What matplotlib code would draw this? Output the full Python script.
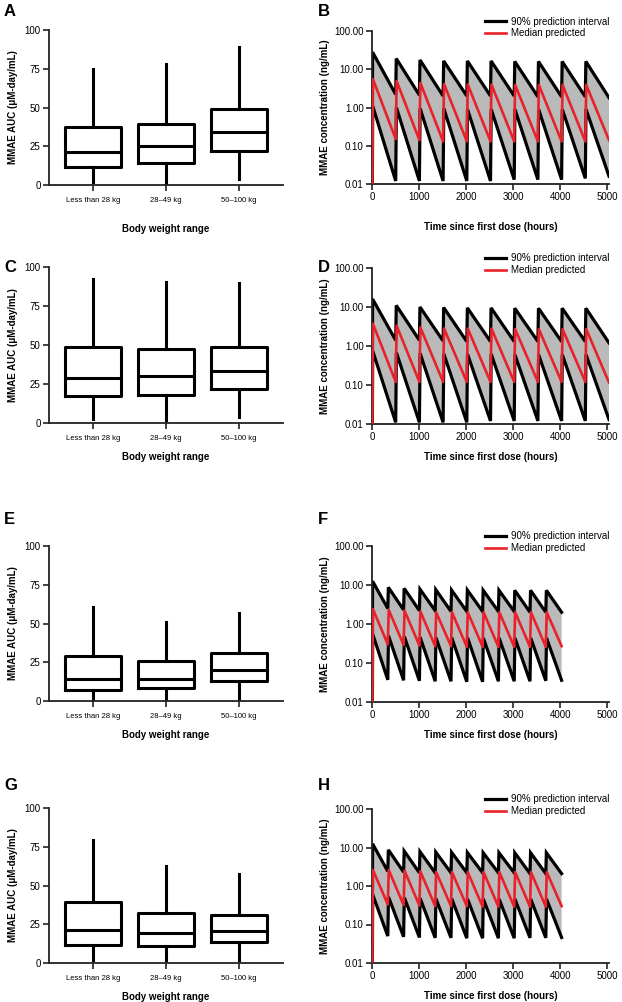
import numpy as np
import matplotlib.pyplot as plt

plt.rcParams['font.family'] = ['Liberation Sans', 'DejaVu Sans']

# ---- box plot data (MMAE AUC, uM-day/mL) ----
categories = ['Less than 28 kg', '28–49 kg', '50–100 kg']
# each row: whislo, q1, median, q3, whishi
box_A = [[2.2, 11.4, 21.0, 37.4, 74.6], [1.5, 14.0, 25.2, 39.6, 77.8], [3.7, 21.9, 34.0, 49.0, 89.2]]
box_C = [[2.4, 17.3, 28.9, 48.4, 92.5], [1.9, 18.0, 30.2, 47.3, 90.6], [4.0, 21.8, 33.6, 49.0, 89.7]]
box_E = [[0.3, 7.1, 14.3, 29.3, 60.4], [0.5, 8.1, 14.3, 25.9, 51.2], [1.0, 12.6, 19.9, 30.8, 57.0]]
box_G = [[1.7, 11.8, 21.6, 39.4, 79.2], [1.7, 11.1, 19.1, 32.1, 62.5], [2.1, 13.5, 20.6, 31.0, 57.2]]

# ---- PK profiles: peaks and troughs per dose cycle (ng/mL) ----
tau_B = 504
up_peak_B = [28, 19, 17.5, 16.5, 16.5, 16.5, 16, 16, 16, 16]
up_trough_B = [2.2, 2.1, 2.0, 2.0, 2.0, 2.0, 1.9, 1.9, 1.9, 1.8]
med_peak_B = [5.5, 4.9, 4.4, 4.1, 4.0, 4.0, 3.9, 3.9, 3.9, 3.9]
med_trough_B = [0.15, 0.14, 0.13, 0.13, 0.13, 0.13, 0.13, 0.13, 0.13, 0.14]
lo_peak_B = [1.1, 1.0, 0.95, 0.95, 0.9, 0.9, 0.9, 0.9, 0.9, 0.9]
lo_trough_B = [0.012, 0.012, 0.012, 0.012, 0.012, 0.013, 0.013, 0.013, 0.014, 0.016]

tau_D = 504
up_peak_D = [16, 11, 10, 9.7, 9.5, 9.5, 9.3, 9.3, 9.3, 9.3]
up_trough_D = [1.4, 1.4, 1.35, 1.3, 1.3, 1.3, 1.3, 1.3, 1.3, 1.2]
med_peak_D = [3.7, 3.3, 3.0, 2.8, 2.8, 2.8, 2.7, 2.7, 2.7, 2.7]
med_trough_D = [0.12, 0.12, 0.12, 0.12, 0.12, 0.12, 0.12, 0.12, 0.12, 0.115]
lo_peak_D = [0.75, 0.68, 0.65, 0.63, 0.62, 0.62, 0.6, 0.6, 0.6, 0.6]
lo_trough_D = [0.011, 0.011, 0.011, 0.011, 0.012, 0.012, 0.012, 0.012, 0.012, 0.013]

tau_F = 336
up_peak_F = [12.5, 8.7, 8.2, 7.8, 7.6, 7.4, 7.4, 7.3, 7.3, 7.3, 7.3, 7.3]
up_trough_F = [2.5, 2.3, 2.2, 2.2, 2.1, 2.1, 2.1, 2.1, 2.1, 2.0, 2.0, 2.0]
med_peak_F = [2.4, 2.3, 2.2, 2.1, 2.0, 2.0, 2.0, 2.0, 2.0, 2.0, 2.0, 2.0]
med_trough_F = [0.30, 0.29, 0.28, 0.27, 0.27, 0.26, 0.26, 0.26, 0.26, 0.26, 0.26, 0.27]
lo_peak_F = [0.55, 0.5, 0.48, 0.46, 0.45, 0.45, 0.45, 0.44, 0.44, 0.44, 0.44, 0.44]
lo_trough_F = [0.037, 0.036, 0.035, 0.034, 0.034, 0.033, 0.033, 0.034, 0.034, 0.034, 0.035, 0.036]

tau_H = 336
up_peak_H = [12.5, 8.7, 8.1, 7.8, 7.6, 7.5, 7.4, 7.3, 7.3, 7.3, 7.3, 7.3]
up_trough_H = [2.4, 2.3, 2.2, 2.2, 2.2, 2.2, 2.2, 2.2, 2.2, 2.1, 2.1, 2.1]
med_peak_H = [2.6, 2.6, 2.5, 2.4, 2.3, 2.3, 2.3, 2.3, 2.3, 2.3, 2.3, 2.3]
med_trough_H = [0.33, 0.32, 0.31, 0.3, 0.3, 0.3, 0.29, 0.29, 0.29, 0.29, 0.29, 0.3]
lo_peak_H = [0.6, 0.52, 0.5, 0.48, 0.47, 0.47, 0.46, 0.46, 0.46, 0.46, 0.46, 0.46]
lo_trough_H = [0.05, 0.048, 0.046, 0.045, 0.045, 0.044, 0.044, 0.044, 0.044, 0.045, 0.045, 0.046]


def profile(peaks, troughs, tau, offset):
    # sawtooth: rise at each dose, peak shortly after, log-linear decay to trough
    x = [0.0]
    y = [1e-4]
    prev = 1e-4
    for i in range(len(peaks)):
        t = i * tau
        x += [t, t + offset]
        y += [prev, peaks[i]]
        x.append(t + tau)
        y.append(troughs[i])
        prev = troughs[i]
    return np.array(x), np.array(y)


W, H = 622, 1002
fig = plt.figure(figsize=(W / 100, H / 100), dpi=100)


def axes_px(left, right, top, bottom):
    return fig.add_axes([left / W, 1 - bottom / H, (right - left) / W, (bottom - top) / H])


def style(ax):
    for s in ['top', 'right']:
        ax.spines[s].set_visible(False)
    for s in ['left', 'bottom']:
        ax.spines[s].set_linewidth(1.3)
        ax.spines[s].set_color('#222222')
    ax.tick_params(width=1.2, length=4, color='#222222', labelsize=7, pad=2)


def box_panel(ax, rows, labelpad):
    stats = []
    for r in rows:
        stats.append(dict(whislo=r[0], q1=r[1], med=r[2], q3=r[3], whishi=r[4], fliers=[]))
    lw = 2.2
    ax.bxp(stats, positions=[0, 1, 2], widths=0.77, showcaps=False, showfliers=False,
           boxprops=dict(linewidth=lw, color='black'),
           whiskerprops=dict(linewidth=lw, color='black'),
           medianprops=dict(linewidth=lw, color='black'))
    ax.set_xlim(-0.6, 2.6)
    ax.set_ylim(0, 100)
    ax.set_yticks([0, 25, 50, 75, 100])
    ax.set_xticks([0, 1, 2])
    ax.set_xticklabels(categories, fontsize=5.5)
    style(ax)
    ax.tick_params(axis='x', labelsize=5.5, pad=5)
    ax.set_ylabel('MMAE AUC (μM-day/mL)', fontsize=7, fontweight='bold', labelpad=5)
    ax.set_xlabel('Body weight range', fontsize=7, fontweight='bold', labelpad=labelpad)


def pk_panel(ax, up, med, lo, labelpad):
    xu, yu = profile(*up, 12)
    xm, ym = profile(*med, 20)
    xl, yl = profile(*lo, 15)
    ax.fill(np.concatenate([xu, xl[::-1]]), np.concatenate([yu, yl[::-1]]),
            color='#bababa', lw=0, zorder=1)
    ax.plot(xu, yu, color='black', lw=2.3, solid_joinstyle='miter', zorder=2,
            label='90% prediction interval')
    ax.plot(xl, yl, color='black', lw=2.3, solid_joinstyle='miter', zorder=2)
    ax.plot(xm, ym, color='#e8212b', lw=1.9, zorder=3, label='Median predicted')
    ax.set_yscale('log')
    ax.set_ylim(0.01, 100)
    ax.set_xlim(0, 5040)
    ax.set_yticks([0.01, 0.1, 1, 10, 100])
    ax.set_yticklabels(['0.01', '0.10', '1.00', '10.00', '100.00'])
    ax.minorticks_off()
    ax.set_xticks([0, 1000, 2000, 3000, 4000, 5000])
    style(ax)
    ax.set_ylabel('MMAE concentration (ng/mL)', fontsize=7, fontweight='bold', labelpad=3)
    ax.set_xlabel('Time since first dose (hours)', fontsize=7, fontweight='bold', labelpad=labelpad)
    ax.legend(loc='upper right', bbox_to_anchor=(1.02, 1.12), frameon=False, fontsize=7,
              handlelength=2.1, handletextpad=0.6, labelspacing=0.2, borderaxespad=0)


axA = axes_px(49, 283, 30, 185)
box_panel(axA, box_A, 14)
axB = axes_px(372, 609, 31, 184)
pk_panel(axB, (up_peak_B, up_trough_B, tau_B), (med_peak_B, med_trough_B, tau_B),
         (lo_peak_B, lo_trough_B, tau_B), 14)

axC = axes_px(49, 283, 267, 423)
box_panel(axC, box_C, 7)
axD = axes_px(372, 609, 268, 424)
pk_panel(axD, (up_peak_D, up_trough_D, tau_D), (med_peak_D, med_trough_D, tau_D),
         (lo_peak_D, lo_trough_D, tau_D), 7)

axE = axes_px(49, 283, 546, 701)
box_panel(axE, box_E, 7)
axF = axes_px(372, 609, 546, 702)
pk_panel(axF, (up_peak_F, up_trough_F, tau_F), (med_peak_F, med_trough_F, tau_F),
         (lo_peak_F, lo_trough_F, tau_F), 7)

axG = axes_px(49, 283, 808, 963)
box_panel(axG, box_G, 7)
axHh = axes_px(372, 609, 809, 963)
pk_panel(axHh, (up_peak_H, up_trough_H, tau_H), (med_peak_H, med_trough_H, tau_H),
         (lo_peak_H, lo_trough_H, tau_H), 7)

# panel letters
letters = [('A', 4, 12), ('B', 318, 12), ('C', 4, 267), ('D', 318, 267),
           ('E', 4, 520), ('F', 318, 520), ('G', 4, 785), ('H', 318, 785)]
for txt, px, py in letters:
    fig.text(px / W, 1 - py / H, txt, fontsize=12, fontweight='bold', va='center', ha='left')

fig.savefig('out.png', dpi=100)
